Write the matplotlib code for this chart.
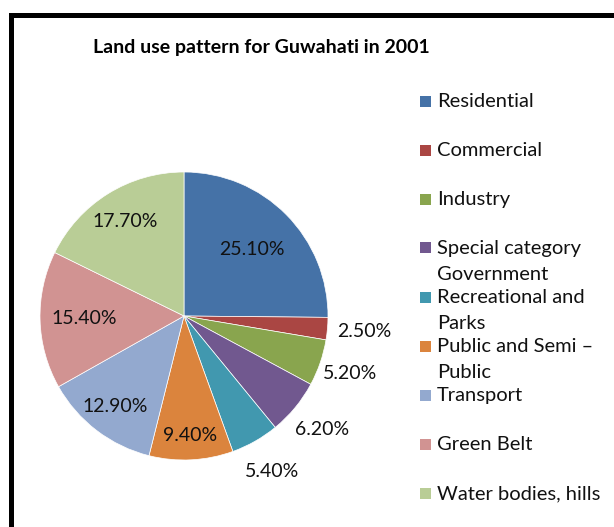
import numpy as np
import matplotlib
matplotlib.use("Agg")
import matplotlib.pyplot as plt
from matplotlib.patches import Rectangle

categories = ["Residential", "Commercial", "Industry", "Special category\nGovernment",
              "Recreational and\nParks", "Public and Semi \u2013\nPublic", "Transport",
              "Green Belt", "Water bodies, hills"]
values = [25.1, 2.5, 5.2, 6.2, 5.4, 9.4, 12.9, 15.4, 17.7]
colors = ["#4572A7", "#AA4643", "#89A54E", "#71588F", "#4198AF",
          "#DB843D", "#93A9CF", "#D19392", "#B9CD96"]
# radial distance of each label (fraction of radius)
label_dist = [0.66, 1.26, 1.22, 1.24, 1.24, 0.83, 0.79, 0.69, 0.77]

W, H = 614, 527
plt.rcParams['font.family'] = ['Lato', 'DejaVu Sans']
fig = plt.figure(figsize=(W / 100, H / 100), dpi=100)

# chart frame (only left and top edges fall inside the picture)
fig.add_artist(Rectangle((10.5 / W, -0.2), 1.2, 1.2 - 14.5 / H, transform=fig.transFigure,
                         fill=False, edgecolor="black", linewidth=3.6))

cx, cy, r = 184, 316, 144
ax = fig.add_axes([(cx - r) / W, (H - cy - r) / H, 2 * r / W, 2 * r / H])
wedges, _ = ax.pie(values, colors=colors, startangle=90, counterclock=False, radius=1,
                   wedgeprops=dict(linewidth=0.5, edgecolor="white"))
ax.set_xlim(-1, 1)
ax.set_ylim(-1, 1)
ax.axis("off")

for w, v, d in zip(wedges, values, label_dist):
    ang = np.deg2rad((w.theta1 + w.theta2) / 2)
    ax.text(d * np.cos(ang), d * np.sin(ang), f"{v:.2f}%", ha="center", va="center",
            fontsize=14, color="#111111", clip_on=False)

fig.text(93 / W, 1 - 47 / H, "Land use pattern for Guwahati in 2001", fontsize=14,
         fontweight="bold", ha="left", va="center")

# legend
y0, step = 101, 49
for i, (name, c) in enumerate(zip(categories, colors)):
    y = y0 + i * step
    fig.add_artist(Rectangle((420 / W, 1 - (y + 5.5) / H), 11 / W, 11 / H,
                             transform=fig.transFigure, facecolor=c, edgecolor="none"))
    fig.text(437 / W, 1 - (y - 8) / H, name, fontsize=14.5, ha="left", va="top",
             linespacing=1.62, color="#111111")

fig.savefig("out.png", dpi=100)
